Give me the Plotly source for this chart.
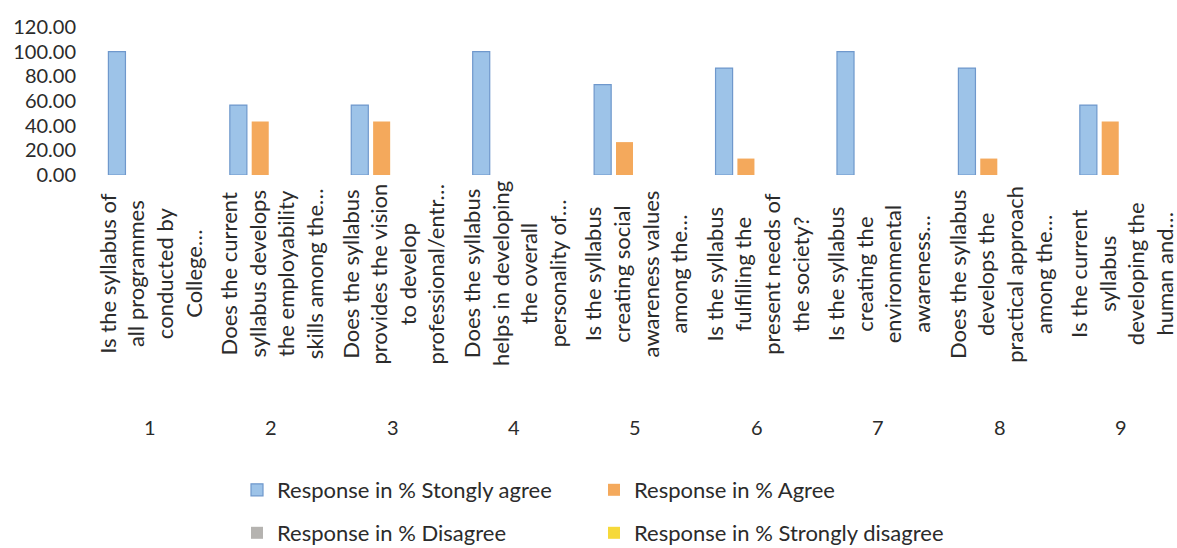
import plotly.graph_objects as go

categories = [1, 2, 3, 4, 5, 6, 7, 8, 9]
questions = [
    "Is the syllabus of<br>all programmes<br>conducted by<br>College…",
    "Does the current<br>syllabus develops<br>the employability<br>skills among the…",
    "Does the syllabus<br>provides the vision<br>to develop<br>professional/entr…",
    "Does the syllabus<br>helps in developing<br>the overall<br>personality of…",
    "Is the syllabus<br>creating social<br>awareness values<br>among the…",
    "Is the syllabus<br>fulfilling the<br>present needs of<br>the society?",
    "Is the syllabus<br>creating the<br>environmental<br>awareness…",
    "Does the syllabus<br>develops the<br>practical approach<br>among the…",
    "Is the current<br>syllabus<br>developing the<br>human and…",
]
strongly_agree = [100.00, 56.67, 56.67, 100.00, 73.33, 86.67, 100.00, 86.67, 56.67]
agree = [0.00, 43.33, 43.33, 0.00, 26.67, 13.33, 0.00, 13.33, 43.33]
disagree = [0, 0, 0, 0, 0, 0, 0, 0, 0]
strongly_disagree = [0, 0, 0, 0, 0, 0, 0, 0, 0]
y_ticks = [0, 20, 40, 60, 80, 100, 120]

FONT = "Lato, 'Open Sans', sans-serif"
TXT = "#2b2b2b"

W, H = 1177, 548

x = list(range(len(categories)))

fig = go.Figure()
fig.add_trace(go.Bar(x=x, y=strongly_agree, name="Response in % Stongly agree",
                     marker=dict(color="#9dc3e8", line=dict(color="#6f98cc", width=1.2)),
                     legend="legend"))
fig.add_trace(go.Bar(x=x, y=agree, name="Response in % Agree",
                     marker=dict(color="#f4a95c", line=dict(color="#f4a95c", width=0)),
                     legend="legend"))
fig.add_trace(go.Bar(x=x, y=disagree, name="Response in % Disagree",
                     marker=dict(color="#b5b3b0", line=dict(width=0)),
                     legend="legend2"))
fig.add_trace(go.Bar(x=x, y=strongly_disagree, name="Response in % Strongly disagree",
                     marker=dict(color="#f6d93a", line=dict(width=0)),
                     legend="legend2"))

annotations = []
for i, q in enumerate(questions):
    annotations.append(dict(x=x[i], y=0, xref="x", yref="paper", text=q,
                            textangle=-90, showarrow=False, align="center",
                            yanchor="middle", xanchor="center", yshift=-99,
                            font=dict(family=FONT, size=22, color=TXT)))
    annotations.append(dict(x=x[i], y=0, xref="x", yref="paper", text=str(categories[i]),
                            showarrow=False, yanchor="middle", xanchor="center", yshift=-252,
                            font=dict(family=FONT, size=20, color=TXT)))

legend_common = dict(orientation="h", xref="container", yref="container",
                     xanchor="left", yanchor="middle", entrywidth=312, entrywidthmode="pixels",
                     font=dict(family=FONT, size=22, color=TXT), bgcolor="rgba(0,0,0,0)",
                     itemwidth=30)

fig.update_layout(
    width=W, height=H,
    margin=dict(l=89, r=0, t=27, b=373, autoexpand=False),
    paper_bgcolor="white", plot_bgcolor="white",
    barmode="group", bargap=0.28, bargroupgap=0.22,
    showlegend=True,
    legend=dict(x=237 / W, y=1 - 490 / H, **legend_common),
    legend2=dict(x=237 / W, y=1 - 533 / H, **legend_common),
    xaxis=dict(range=[-0.5, 8.46], showticklabels=False, showgrid=False, automargin=False,
               zeroline=False, showline=False, ticks=""),
    yaxis=dict(range=[0, 120], tickvals=y_ticks, tickformat=".2f", showgrid=False,
               zeroline=False, showline=False, ticks="", ticklabelstandoff=12, automargin=False,
               tickfont=dict(family=FONT, size=20, color=TXT)),
    annotations=annotations,
)

# remove the page's default body margin so the figure fills the window exactly
fig.write_html("out.html", config={"displayModeBar": False},
               post_script="document.body.style.margin='0';document.body.style.overflow='hidden';")
